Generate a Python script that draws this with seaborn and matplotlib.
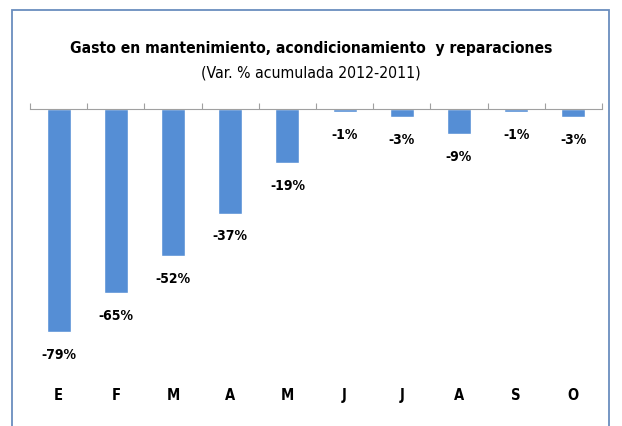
import pandas as pd
import seaborn as sns
import matplotlib.pyplot as plt
from matplotlib.patches import Rectangle

meses = ["Ene", "Feb", "Mar", "Abr", "May", "Jun", "Jul", "Ago", "Sep", "Oct"]
etiquetas = ["E", "F", "M", "A", "M", "J", "J", "A", "S", "O"]
variacion = [-79, -65, -52, -37, -19, -1, -3, -9, -1, -3]

BAR_COLOR = "#558ED5"

sns.set_style("white")
plt.rcParams["font.family"] = ["DejaVu Sans"]
plt.rcParams["font.stretch"] = "condensed"
plt.rcParams["text.color"] = "black"
plt.rcParams["xtick.color"] = "black"

df = pd.DataFrame({"mes": meses, "var": variacion})

fig = plt.figure(figsize=(6.22, 4.26), dpi=100)
ax = fig.add_axes([30 / 622, 1 - 369 / 426, 572 / 622, 260 / 426])

sns.barplot(data=df, x="mes", y="var", order=meses, color=BAR_COLOR,
            width=0.42, saturation=1, ax=ax)

ax.set_ylim(-92, 0)
ax.set_xlim(-0.5, len(meses) - 0.5)
ax.set_xlabel("")
ax.set_ylabel("")
ax.set_yticks([])

ax.set_xticks(range(len(meses)))
ax.set_xticklabels(etiquetas, fontsize=10.5, fontweight="bold", fontstretch="condensed")
ax.tick_params(axis="x", which="major", length=0, pad=14, labelcolor="black")
ax.set_xticks([i - 0.5 for i in range(len(meses) + 1)], minor=True)
ax.tick_params(axis="x", which="minor", top=True, bottom=False, direction="out",
               length=4, color="#A0A0A0", width=0.8)

for s in ["left", "right", "bottom"]:
    ax.spines[s].set_visible(False)
ax.spines["top"].set_color("#A0A0A0")
ax.spines["top"].set_linewidth(0.8)

for i, v in enumerate(variacion):
    ax.annotate(f"{v}%", (i, v), xytext=(0, -16.5), textcoords="offset points",
                ha="center", va="center", fontsize=10, fontweight="bold",
                fontstretch="condensed", color="black")

renderer = fig.canvas.get_renderer()


def fit_text(y_px, s, width_px, **kw):
    t = fig.text(0.5, 1 - y_px / 426, s, ha="center", va="center", color="black", **kw)
    w = t.get_window_extent(renderer).width
    t.set_fontsize(t.get_fontsize() * width_px / w)
    return t


fit_text(48, "Gasto en mantenimiento, acondicionamiento  y reparaciones", 484,
         fontsize=13, fontweight="bold", fontstretch="condensed")
fit_text(73, "(Var. % acumulada 2012-2011)", 219, fontsize=11,
         fontstretch="condensed")

fig.patches.append(Rectangle((12 / 622, -0.05), 597 / 622, 1 - 10 / 426 + 0.05,
                             transform=fig.transFigure, fill=False,
                             edgecolor="#6A8DBE", linewidth=1.3))

fig.savefig("out.png", dpi=100)
